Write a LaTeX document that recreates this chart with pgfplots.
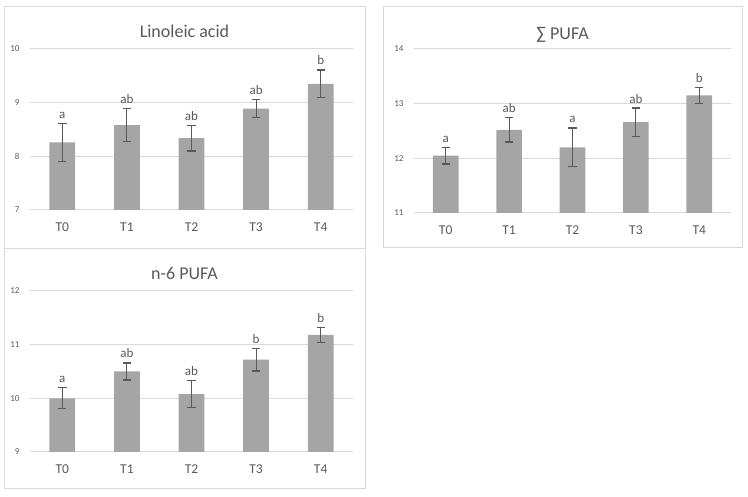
\documentclass[border=0pt]{standalone}
\usepackage{pgfplots}
\pgfplotsset{compat=1.18}
\usepackage{fontspec}
\setmainfont{Carlito}

\definecolor{barc}{HTML}{A5A5A5}
\definecolor{errc}{HTML}{595959}
\definecolor{gridc}{HTML}{D9D9D9}
\definecolor{txtc}{HTML}{595959}

\pgfplotsset{
  panel/.style={
    scale only axis,
    xmin=-0.5, xmax=4.5,
    xtick={0,...,4},
    xticklabels={T0,T1,T2,T3,T4},
    axis line style={draw=none},
    major tick length=0pt,
    ymajorgrids,
    grid style={draw=gridc, line width=1pt},
    /pgf/number format/assume math mode=true,
    yticklabel style={font=\fontsize{9}{10}\selectfont, text=txtc, xshift=-7pt},
    xticklabel style={font=\fontsize{13.5}{15}\selectfont, text=txtc, yshift=-9pt},
  },
  bars/.style={
    ybar, bar width=25.7pt, fill=barc, draw=none,
    error bars/.cd, y dir=both, y explicit,
    error bar style={errc, line width=1.2pt},
    error mark options={errc, rotate=90, mark size=4.2pt, line width=1.2pt},
  },
  letters/.style={
    draw=none, mark=none, nodes near coords,
    point meta=explicit symbolic,
    nodes near coords style={anchor=base, inner sep=0pt, yshift=5pt,
      font=\fontsize{13}{15}\selectfont, text=txtc},
  },
}

\begin{document}
\begin{tikzpicture}[x=1pt,y=1pt]
\path[use as bounding box] (0,0) rectangle (748,497);

% panel frames
\draw[gridc, line width=1pt] (4,248) rectangle (365,490);
\draw[gridc, line width=1pt] (383,249) rectangle (742,490);
\draw[gridc, line width=1pt] (4,8) rectangle (365,248);

% titles
\node[anchor=base, font=\fontsize{18}{20}\selectfont, text=txtc] at (184.5,459.3) {Linoleic acid};
\node[anchor=base, font=\fontsize{18}{20}\selectfont, text=txtc] at (562.5,457.7) {∑ PUFA};
\node[anchor=base, font=\fontsize{18}{20}\selectfont, text=txtc] at (184.5,217.7) {n-6 PUFA};

% Linoleic acid
\begin{axis}[panel, at={(30pt,287pt)}, anchor=south west, width=323pt, height=161pt,
  ymin=7, ymax=10, ytick={7,8,9,10}]
\addplot[bars] coordinates {
  (0,8.26) +- (0,0.35)
  (1,8.58) +- (0,0.31)
  (2,8.34) +- (0,0.24)
  (3,8.89) +- (0,0.17)
  (4,9.35) +- (0,0.26)
};
\addplot[letters] coordinates {
  (0,8.61)[a]
  (1,8.89)[ab]
  (2,8.58)[ab]
  (3,9.06)[ab]
  (4,9.61)[b]
};
\end{axis}

% Sum PUFA
\begin{axis}[panel, at={(414pt,284pt)}, anchor=south west, width=317pt, height=164pt,
  ymin=11, ymax=14, ytick={11,12,13,14}]
\addplot[bars] coordinates {
  (0,12.05) +- (0,0.155)
  (1,12.52) +- (0,0.22)
  (2,12.20) +- (0,0.355)
  (3,12.66) +- (0,0.26)
  (4,13.15) +- (0,0.145)
};
\addplot[letters] coordinates {
  (0,12.205)[a]
  (1,12.74)[ab]
  (2,12.555)[a]
  (3,12.92)[ab]
  (4,13.295)[b]
};
\end{axis}

% n-6 PUFA
\begin{axis}[panel, at={(30pt,45pt)}, anchor=south west, width=323pt, height=161pt,
  ymin=9, ymax=12, ytick={9,10,11,12}]
\addplot[bars] coordinates {
  (0,10.00) +- (0,0.195)
  (1,10.50) +- (0,0.16)
  (2,10.08) +- (0,0.25)
  (3,10.72) +- (0,0.21)
  (4,11.18) +- (0,0.14)
};
\addplot[letters] coordinates {
  (0,10.195)[a]
  (1,10.66)[ab]
  (2,10.33)[ab]
  (3,10.93)[b]
  (4,11.32)[b]
};
\end{axis}
\end{tikzpicture}
\end{document}
